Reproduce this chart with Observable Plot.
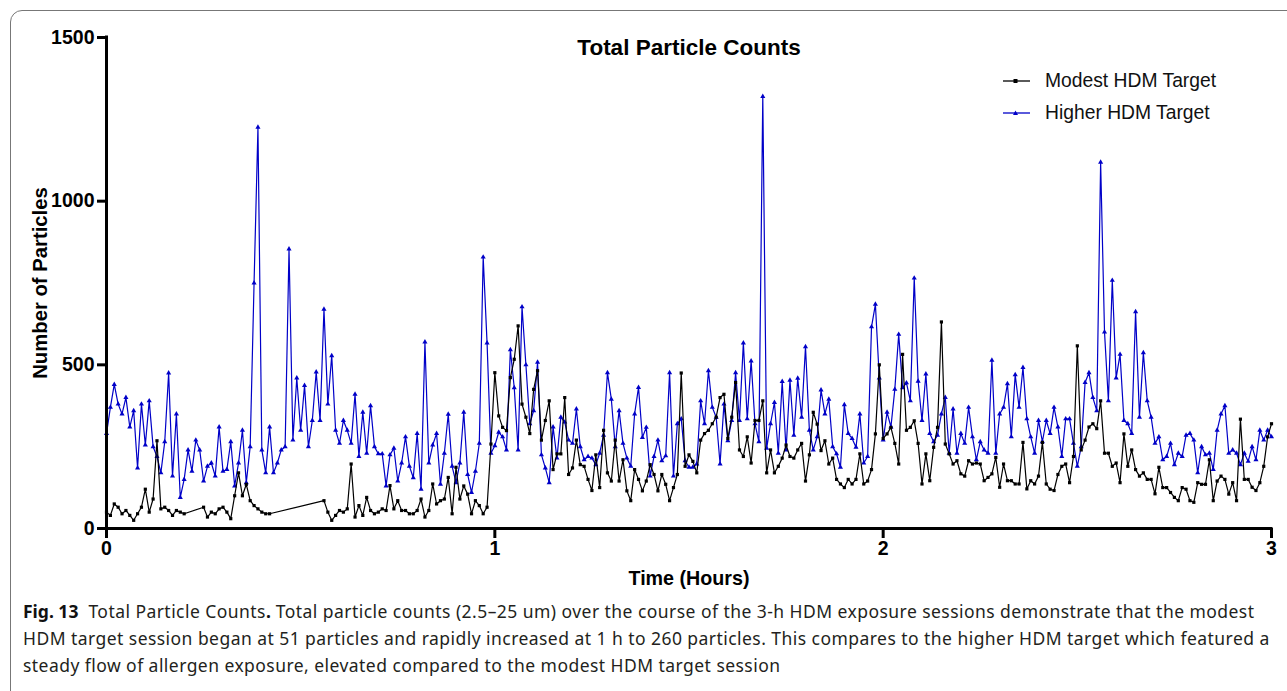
<!DOCTYPE html>
<html>
<head>
<meta charset="utf-8">
<script src="https://cdn.jsdelivr.net/npm/d3@7"></script>
<script src="https://cdn.jsdelivr.net/npm/@observablehq/plot@0.6"></script>
<style>
  html, body { margin: 0; padding: 0; background: #fff; }
  body { width: 1287px; height: 691px; position: relative; overflow: hidden; font-family: "Liberation Sans", Arial, sans-serif; }
  #frame { position: absolute; left: 10px; top: 10px; width: 1320px; height: 720px; border: 1px solid #777; border-radius: 12px; box-sizing: border-box; }
  #chart { position: absolute; left: 0; top: 0; }
  .leg { position: absolute; left: 1003px; font-size: 19.3px; color: #111; display: flex; align-items: center; height: 26px; }
  .leg svg { margin-right: 15px; }
  #caption { position: absolute; left: 23px; top: 598px; font-family: "Noto Sans", sans-serif; font-size: 17.5px; letter-spacing: 0.45px; line-height: 27px; color: #231f20; white-space: nowrap; }
  #caption b { color: #111; letter-spacing: 0; }
</style>
</head>
<body>
<div id="frame"></div>
<div id="chart"></div>
<div class="leg" id="leg1" style="top:68px"></div>
<div class="leg" id="leg2" style="top:100px"></div>
<div id="caption">
<b>Fig. 13</b>&nbsp; Total Particle Counts<b>.</b> Total particle counts (2.5–25 um) over the course of the 3-h HDM exposure sessions demonstrate that the modest<br>
HDM target session began at 51 particles and rapidly increased at 1 h to 260 particles. This compares to the higher HDM target which featured a<br>
steady flow of allergen exposure, elevated compared to the modest HDM target session
</div>
<script>
// sampling step of the series (hours)
const STEP_HOURS = 0.01;

const seriesNames = ["Modest HDM Target", "Higher HDM Target"];
const xTicks = [0, 1, 2, 3];
const yTicks = [0, 500, 1000, 1500];

// Higher HDM Target (blue), one value per step
const higherValues = [
  290, 370, 440, 380, 350, 400, 310, 360, 185, 380,
  255, 390, 250, 220, 170, 265, 475, 160, 350, 95,
  150, 240, 175, 270, 240, 145, 190, 200, 160, 310,
  175, 180, 265, 130, 200, 300, 140, 250, 750, 1226,
  240, 170, 310, 170, 200, 240, 250, 854, 270, 460,
  300, 437, 250, 330, 478, 330, 670, 380, 528, 300,
  260, 330, 300, 260, 410, 220, 355, 230, 375, 250,
  228, 228, 130, 225, 245, 145, 200, 280, 190, 155,
  290, 120, 570, 200, 255, 290, 135, 230, 349, 190,
  140, 200, 355, 165, 110, 175, 260, 829, 567, 230,
  253, 294, 280, 240, 546, 430, 240, 677, 500, 320,
  360, 508, 225, 185, 140, 310, 215, 340, 325, 270,
  260, 365, 250, 210, 220, 215, 195, 230, 285, 476,
  395, 250, 360, 260, 215, 190, 350, 431, 278, 309,
  160, 220, 270, 207, 222, 476, 160, 320, 335, 207,
  187, 187, 197, 390, 320, 482, 370, 340, 197, 380,
  268, 330, 476, 330, 567, 335, 512, 320, 265, 1320,
  245, 320, 385, 230, 449, 240, 453, 285, 459, 340,
  555, 300, 240, 280, 423, 350, 395, 250, 228, 187,
  378, 290, 275, 248, 350, 200, 220, 616, 685, 460,
  270, 355, 310, 425, 593, 430, 445, 390, 765, 450,
  330, 472, 290, 265, 285, 350, 400, 230, 365, 230,
  290, 260, 370, 280, 210, 265, 240, 230, 514, 230,
  350, 370, 442, 280, 470, 370, 492, 335, 280, 230,
  330, 265, 330, 290, 370, 310, 220, 335, 335, 260,
  190, 250, 446, 476, 400, 360, 1119, 600, 390, 758,
  460, 532, 330, 320, 290, 662, 340, 537, 390, 340,
  260, 280, 210, 220, 260, 195, 230, 220, 285, 290,
  270, 170, 250, 225, 230, 180, 300, 350, 375, 230,
  240, 230, 195, 230, 205, 250, 210, 300, 270, 300, 280
];

// Modest HDM Target (black); null = no reading (line joins across)
const modestValues = [
  50, 40, 75, 65, 45, 55, 40, 25, 45, 65,
  120, 50, 90, 268, 60, 65, 55, 40, 55, 50, 45,
  null, null, null, null,
  65, 35, 50, 45, 60, 65, 50, 30,
  100, 170, 100, 135, 85, 70, 60, 50, 45, 45,
  null, null, null, null, null, null, null, null, null, null, null, null, null,
  85, 50, 25, 40,
  55, 50, 60, 197, 35, 70, 40, 95, 55, 45,
  50, 60, 55, 131, 60, 85, 55, 55, 45, 45,
  55, 90, 35, 55, 136, 75, 85, 90, 156, 45,
  187, 90, 130, 105, 45, 85, 70, 45, 65, 258,
  476, 344, 309, 299, 461, 517, 619, 380, 340, 290,
  425, 482, 270, 330, 390, 180, 228, 228, 400, 165,
  185, 270, 195, 190, 150, 116, 225, 125, 300, 170,
  145, 270, 145, 210, 115, 85, 180, 150, 115, 145,
  195, 165, 115, 165, 135, 85, 125, 165, 475, 190,
  225, 205, 170, 270, 290, 300, 320, 340, 400, 410,
  275, 340, 446, 240, 220, 280, 200, 330, 330, 390,
  170, 240, 170, 190, 215, 255, 220, 215, 240, 260,
  145, 225, 355, 319, 238, 268, 197, 215, 150, 136,
  125, 150, 136, 150, 228, 136, 145, 180, 289, 500,
  275, 289, 309, 260, 197, 532, 300, 309, 329, 260,
  136, 228, 146, 248, 309, 631, 258, 228, 197, 207,
  167, 160, 207, 197, 200, 197, 146, 156, 167, 217,
  126, 197, 146, 146, 136, 136, 263, 121, 146, 136,
  160, 263, 136, 120, 116, 165, 190, 197, 140, 220,
  558, 240, 270, 310, 320, 305, 390, 230, 230, 190,
  200, 140, 289, 190, 240, 180, 160, 170, 150, 150,
  106, 187, 125, 125, 110, 95, 85, 125, 120, 85,
  80, 140, 135, 135, 210, 85, 145, 160, 150, 105,
  140, 85, 334, 150, 150, 126, 116, 140, 190, 280, 320
];

const BLUE = "#0000c8";
const BLACK = "#000000";

const higher = higherValues.map((v, i) => ({t: i * STEP_HOURS, v}));
const modest = modestValues.map((v, i) => ({t: i * STEP_HOURS, v})).filter(d => d.v != null);

const bold = {fontWeight: "bold"};

const chart = Plot.plot({
  width: 1287,
  height: 600,
  marginLeft: 106,
  marginRight: 16,
  marginTop: 37,
  marginBottom: 72,
  x: {domain: [0, 3]},
  y: {domain: [0, 1500]},
  style: {fontFamily: "'Liberation Sans', Arial, sans-serif", background: "transparent", overflow: "visible", color: "#000"},
  marks: [
    Plot.line(higher, {x: "t", y: "v", stroke: BLUE, strokeWidth: 1.2}),
    Plot.dot(higher, {x: "t", y: "v", symbol: "triangle", r: 1.9, fill: BLUE, stroke: "none"}),
    Plot.line(modest, {x: "t", y: "v", stroke: BLACK, strokeWidth: 1.2}),
    Plot.dot(modest, {x: "t", y: "v", symbol: "square", r: 1.8, fill: BLACK, stroke: "none"}),
    Plot.ruleY([0], {stroke: BLACK, strokeWidth: 3, strokeLinecap: "square"}),
    Plot.ruleX([0], {stroke: BLACK, strokeWidth: 3, strokeLinecap: "square"}),
    Plot.axisX({ticks: xTicks, tickFormat: d => String(d), tickSize: 10, tickPadding: 3, strokeWidth: 3, fontSize: 19.5, ...bold, label: null}),
    Plot.axisY({ticks: yTicks, tickFormat: d => String(d), tickSize: 9, tickPadding: 3, strokeWidth: 3, fontSize: 19.5, ...bold, label: null}),
    Plot.text(["Total Particle Counts"], {frameAnchor: "top", dy: 10, textAnchor: "middle", lineAnchor: "middle", fontSize: 22.5, ...bold, fill: BLACK}),
    Plot.text(["Time (Hours)"], {frameAnchor: "bottom", dy: 50, textAnchor: "middle", lineAnchor: "middle", fontSize: 19.7, ...bold, fill: BLACK}),
    Plot.text(["Number of Particles"], {frameAnchor: "left", dx: -66, textAnchor: "middle", lineAnchor: "middle", rotate: -90, fontSize: 20.3, ...bold, fill: BLACK})
  ]
});
document.getElementById("chart").appendChild(chart);

function legendItem(el, name, color, shape) {
  const marker = shape === "square"
    ? `<rect x="10.5" y="6" width="4" height="4" fill="${color}"/>`
    : `<path d="M12.5 5.5 L15 10 L10 10 Z" fill="${color}"/>`;
  el.innerHTML = `<svg width="27" height="16"><line x1="0" x2="27" y1="8" y2="8" stroke="${color}" stroke-width="1.3"/>${marker}</svg><span>${name}</span>`;
}
legendItem(document.getElementById("leg1"), seriesNames[0], BLACK, "square");
legendItem(document.getElementById("leg2"), seriesNames[1], BLUE, "triangle");
</script>
</body>
</html>
